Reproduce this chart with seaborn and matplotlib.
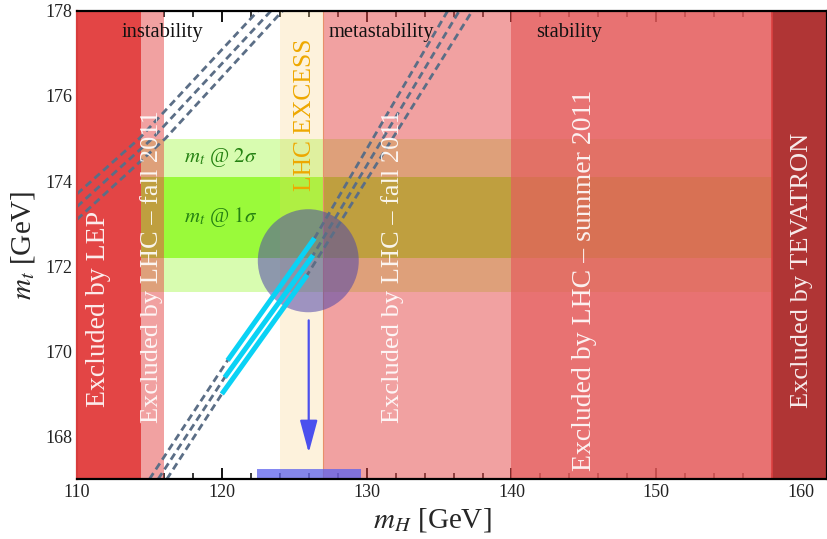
import numpy as np
import pandas as pd
import matplotlib
matplotlib.use('Agg')
import matplotlib.pyplot as plt
import seaborn as sns
from matplotlib.patches import Ellipse

sns.set_theme(style='ticks')
plt.rcParams['font.family'] = ['Liberation Serif', 'DejaVu Serif']
plt.rcParams['mathtext.fontset'] = 'stix'

# excluded / highlighted regions in m_H (GeV)
lep_excl = (110.0, 114.4)
lhc_fall_excl = [(114.4, 116.0), (127.0, 140.0)]
lhc_summer_excl = (140.0, 158.0)
tevatron_excl = (158.0, 161.8)
lhc_excess = (124.0, 127.0)

# top mass bands (GeV)
mt_1sigma = (172.2, 174.1)
mt_2sigma = (171.4, 175.0)

# instability / metastability boundary (three dashed curves)
meta_x = [[110.0, 114.3, 122.5], [110.0, 115.2, 123.4], [110.0, 116.1, 124.2]]
meta_y = [[173.7, 175.0, 178.0], [173.4, 175.0, 178.0], [173.1, 175.0, 178.0]]

# stability boundary (three dashed curves)
stab_x = [[115.0, 120.4, 126.4, 135.6], [115.6, 120.2, 126.3, 136.4], [116.2, 120.0, 125.9, 137.3]]
stab_y = [[167.0, 169.79, 172.66, 178.0], [167.0, 169.39, 172.26, 178.0], [167.0, 169.0, 171.8, 178.0]]

# highlighted cyan pieces
cyan_x = [[120.4, 126.4], [120.2, 126.3], [120.0, 125.9]]
cyan_y = [[169.79, 172.66], [169.39, 172.26], [169.0, 171.8]]

# excess blob, arrow and bar
blob_center = (125.97, 172.13)
blob_size = (6.97, 2.42)
arrow_x = 126.0
arrow_y = (170.73, 167.62)
bar_x = [122.4, 129.6]
bar_y = (167.0, 167.25)

fig = plt.figure(figsize=(8.28, 5.39), dpi=100)
ax = fig.add_axes([0.093, 0.111, 0.906, 0.869])

# green top-mass bands
ax.axhspan(*mt_2sigma, color='#d8fcb0', lw=0, zorder=0.5)
ax.axhspan(*mt_1sigma, color='#9afa3a', lw=0, zorder=0.6)

ax.axvspan(*lhc_excess, color='#fac864', alpha=0.22, lw=0, zorder=1)
for lo, hi in lhc_fall_excl:
    ax.axvspan(lo, hi, color='#e54545', alpha=0.5, lw=0, zorder=1)
ax.axvline(lhc_fall_excl[1][0], color='#e8906a', lw=0.8, zorder=1)
ax.axvspan(*lhc_summer_excl, color='#e45959', alpha=0.85, lw=0, zorder=1)
ax.axvspan(*lep_excl, color='#e34545', lw=0, zorder=1.2)
ax.axvspan(*tevatron_excl, color='#b03535', lw=0, zorder=1.2)
ax.axvline(tevatron_excl[0], color='#dc4040', lw=1.2, zorder=1.3)

ax.add_patch(Ellipse(blob_center, *blob_size, color='#5046aa', alpha=0.55, lw=0, zorder=1.9))

# dashed boundaries
for xs, ys in zip(meta_x + stab_x, meta_y + stab_y):
    sns.lineplot(x=xs, y=ys, ax=ax, sort=False, estimator=None, color='#5b6e86',
                 lw=2.0, linestyle=(0, (2.6, 1.6)), zorder=2)
for xs, ys in zip(cyan_x, cyan_y):
    sns.lineplot(x=xs, y=ys, ax=ax, sort=False, estimator=None, color='#0ad2f5',
                 lw=3.6, solid_capstyle='butt', zorder=2.2)

ax.annotate('', xy=(arrow_x, arrow_y[1]), xytext=(arrow_x, arrow_y[0]),
            arrowprops=dict(arrowstyle='-|>,head_length=1.0,head_width=0.27', color='#4b50ee',
                            lw=1.6, mutation_scale=20, shrinkA=0, shrinkB=0), zorder=3)
ax.fill_between(bar_x, bar_y[0], bar_y[1], color='#5c62ee', alpha=0.75, lw=0, zorder=3)

# labels
for txt, xx in [('instability', 115.9), ('metastability', 131.0), ('stability', 144.0)]:
    ax.text(xx, 177.5, txt, fontsize=14.8, ha='center', va='center', color='#111111', zorder=4)
ax.text(119.9, 174.55, r'$m_t$ @ $2\sigma$', fontsize=15, ha='center', va='center', color='#258212', zorder=4)
ax.text(119.9, 173.15, r'$m_t$ @ $1\sigma$', fontsize=15, ha='center', va='center', color='#258212', zorder=4)
ax.text(125.75, 175.55, 'LHC EXCESS', fontsize=18.4, rotation=90, ha='center', va='center',
        color='#eea800', zorder=4)

vert = [('Excluded by LEP', 111.45, 168.7, 20),
        ('Excluded by LHC \u2013 fall 2011', 115.17, 168.31, 19),
        ('Excluded by LHC \u2013 fall 2011', 131.79, 168.31, 19),
        ('Excluded by LHC \u2013 summer 2011', 145.03, 167.2, 20),
        ('Excluded by TEVATRON', 160.07, 168.66, 19)]
for txt, xx, yy, fs in vert:
    ax.text(xx, yy, txt, fontsize=fs, rotation=90, ha='center', va='bottom',
            color='white', alpha=0.9, zorder=4)

ax.set_xlim(110, 161.8)
ax.set_ylim(167, 178)
ax.set_xticks([110, 120, 130, 140, 150, 160])
ax.set_xticks(np.arange(110, 162, 2), minor=True)
ax.set_yticks([168, 170, 172, 174, 176, 178])
ax.set_yticks(np.arange(167, 178.1, 0.5), minor=True)
ax.tick_params(which='both', direction='in', top=True, right=True, color='black', labelsize=13,
               labelcolor='#222222')
ax.tick_params(which='major', length=8, width=1.3)
ax.tick_params(which='minor', length=4.5, width=1.1)
for s in ax.spines.values():
    s.set_color('black')
    s.set_linewidth(1.6)
    s.set_zorder(5)
ax.spines['left'].set_color('#d83c3c')
ax.set_xlabel(r'$m_H$ [GeV]', fontsize=21)
ax.xaxis.set_label_coords(0.474, -0.058)
ax.set_ylabel(r'$m_t$ [GeV]', fontsize=21, labelpad=6)

fig.savefig('out.png', dpi=100)
